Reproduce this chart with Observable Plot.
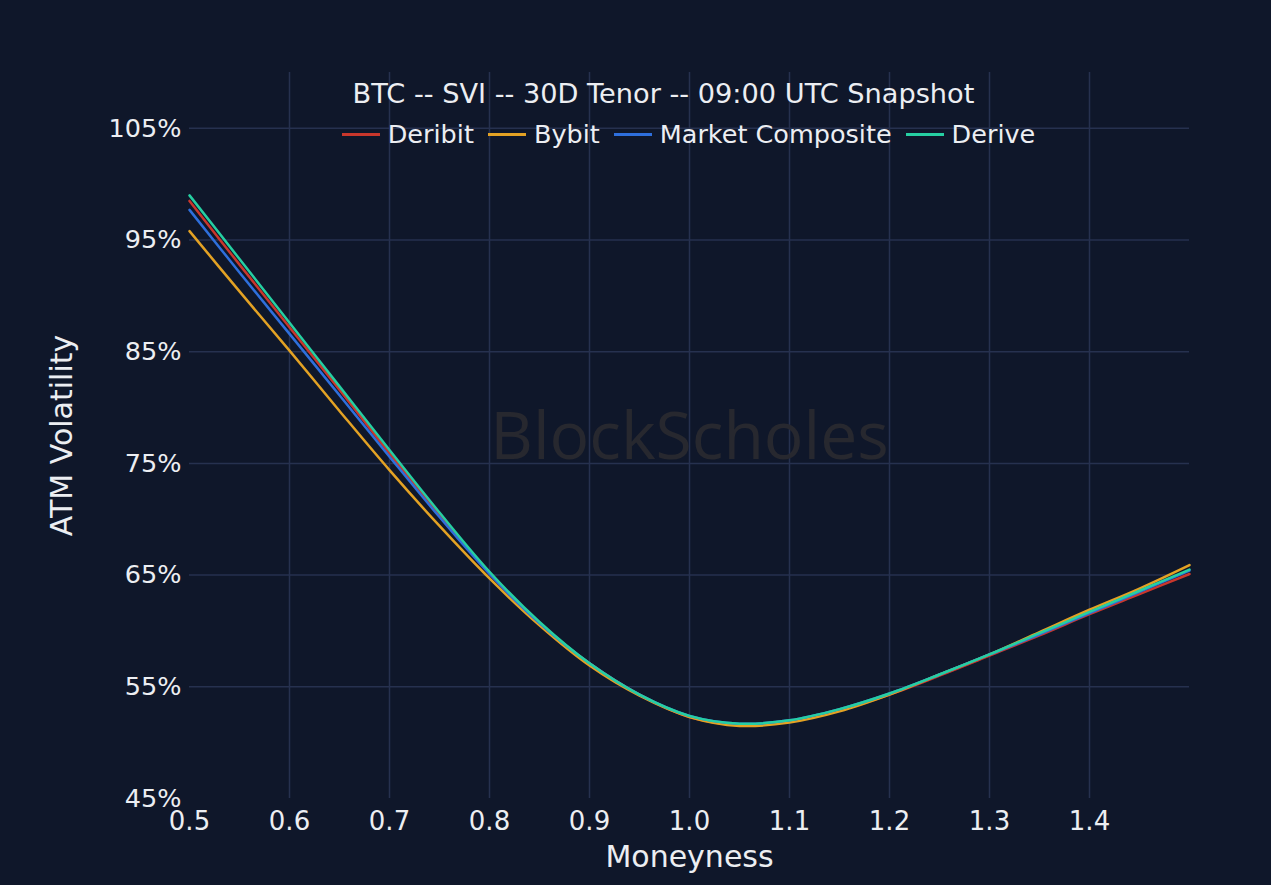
<!DOCTYPE html>
<html>
<head>
<meta charset="utf-8">
<script src="https://cdn.jsdelivr.net/npm/d3@7"></script>
<script src="https://cdn.jsdelivr.net/npm/@observablehq/plot@0.6"></script>
<style>
  html, body { margin: 0; padding: 0; background: #0f172a; }
  #wrap { position: relative; width: 1271px; height: 885px; overflow: hidden; }
  #title { position: absolute; left: 0; width: 1271px; top: 78px; text-align: center; padding-left: 56px; box-sizing: border-box;
           font-family: "DejaVu Sans", sans-serif; font-size: 27.2px; line-height: 32px; color: #eceef2; white-space: nowrap; }
  #legend { position: absolute; left: 189px; width: 999px; top: 118px; display: flex; justify-content: center; gap: 14px;
            font-family: "DejaVu Sans", sans-serif; font-size: 25.5px; line-height: 32px; color: #eceef2; white-space: nowrap; }
  .item { display: flex; align-items: center; gap: 8px; }
  .sw { width: 38px; height: 3px; }
</style>
</head>
<body>
<div id="wrap">
  <div id="chart"></div>
  <div id="title"></div>
  <div id="legend"></div>
</div>
<script>
const titleText = "BTC -- SVI -- 30D Tenor -- 09:00 UTC Snapshot";
const seriesNames = ["Deribit", "Bybit", "Market Composite", "Derive"];
const seriesColors = ["#c9372c", "#e3a224", "#2e6fdc", "#26cfa2"];
const moneyness = [0.5, 0.55, 0.6, 0.65, 0.7, 0.75, 0.8, 0.85, 0.9, 0.95, 1.0, 1.05, 1.1, 1.15, 1.2, 1.25, 1.3, 1.35, 1.4, 1.45, 1.5];
const deribit   = [98.5, 92.8, 87.2, 81.6, 75.9, 70.4, 65.2, 60.7, 57.1, 54.3, 52.3, 51.6, 51.9, 52.9, 54.3, 56.0, 57.8, 59.6, 61.5, 63.3, 65.1];
const bybit     = [95.8, 90.4, 85.1, 79.7, 74.4, 69.4, 64.7, 60.5, 56.9, 54.2, 52.3, 51.5, 51.8, 52.8, 54.3, 56.1, 57.9, 59.9, 61.9, 63.8, 65.9];
const composite = [97.7, 92.1, 86.6, 81.1, 75.6, 70.2, 65.1, 60.7, 57.1, 54.3, 52.4, 51.7, 52.0, 53.0, 54.4, 56.1, 57.9, 59.7, 61.6, 63.5, 65.4];
const derive    = [99.0, 93.3, 87.6, 81.9, 76.2, 70.6, 65.3, 60.8, 57.1, 54.3, 52.4, 51.7, 52.0, 53.0, 54.4, 56.1, 57.9, 59.8, 61.7, 63.6, 65.5];
const xTicks = [0.5, 0.6, 0.7, 0.8, 0.9, 1.0, 1.1, 1.2, 1.3, 1.4];
const xGrid = [0.6, 0.7, 0.8, 0.9, 1.0, 1.1, 1.2, 1.3, 1.4];
const yTicks = [45, 55, 65, 75, 85, 95, 105];
const yGrid = [55, 65, 75, 85, 95, 105];
const xLabel = "Moneyness";
const yLabel = "ATM Volatility";
const watermark = "BlockScholes";

const allSeries = [deribit, bybit, composite, derive];
const rows = [];
allSeries.forEach((vals, i) => vals.forEach((v, j) => rows.push({series: seriesNames[i], x: moneyness[j], y: v})));

const chart = Plot.plot({
  width: 1271,
  height: 885,
  marginLeft: 189,
  marginRight: 82,
  marginTop: 72,
  marginBottom: 87,
  style: { background: "#0f172a", color: "#eceef2", fontFamily: "DejaVu Sans, sans-serif", fontSize: "26px" },
  x: { domain: [0.5, 1.5] },
  y: { domain: [45, 110] },
  color: { domain: seriesNames, range: seriesColors },
  marks: [
    Plot.gridX(xGrid, { stroke: "#26314f", strokeOpacity: 1, strokeWidth: 1.5 }),
    Plot.gridY(yGrid, { stroke: "#26314f", strokeOpacity: 1, strokeWidth: 1.5 }),
    Plot.text([watermark], { frameAnchor: "middle", dy: 2, fontSize: 66, fill: "#27282f", fontFamily: "Open Sans, sans-serif", fontWeight: 400 }),
    Plot.axisX(xTicks, { tickSize: 0, tickPadding: 13, tickFormat: d => d.toFixed(1), label: null, fontSize: 26 }),
    Plot.axisY(yTicks, { tickSize: 0, tickPadding: 8, tickFormat: d => d + "%", label: null, fontSize: 25.5 }),
    Plot.lineY(rows, { x: "x", y: "y", z: "series", stroke: "series", strokeWidth: 2.5, curve: "catmull-rom" }),
    Plot.text([xLabel], { frameAnchor: "bottom", dy: 68, fontSize: 30, fill: "#eceef2" }),
    Plot.text([yLabel], { frameAnchor: "left", textAnchor: "middle", lineAnchor: "middle", dx: -127, rotate: -90, fontSize: 30, fill: "#eceef2" })
  ]
});
document.getElementById("chart").appendChild(chart);

document.getElementById("title").textContent = titleText;
const legend = document.getElementById("legend");
seriesNames.forEach((name, i) => {
  const item = document.createElement("div");
  item.className = "item";
  const sw = document.createElement("div");
  sw.className = "sw";
  sw.style.background = seriesColors[i];
  const lab = document.createElement("span");
  lab.textContent = name;
  item.appendChild(sw);
  item.appendChild(lab);
  legend.appendChild(item);
});
</script>
</body>
</html>
